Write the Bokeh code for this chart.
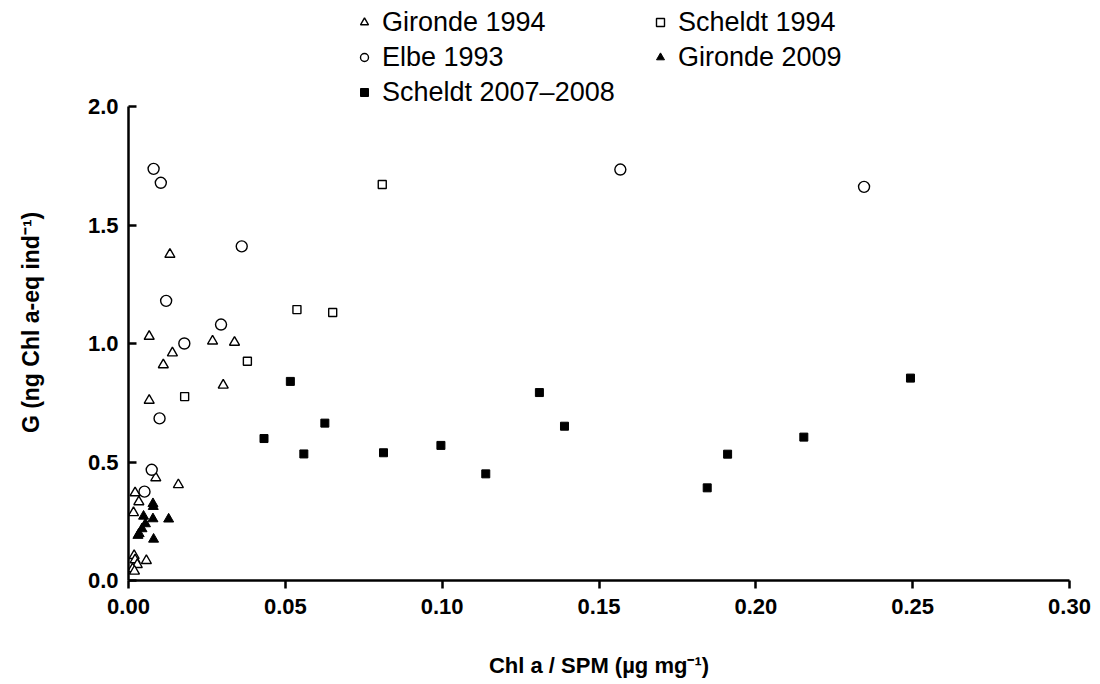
from bokeh.plotting import figure
from bokeh.models import Legend, LegendItem, Range1d, FixedTicker, NumeralTickFormatter
from bokeh.embed import file_html
from bokeh.resources import INLINE

# ---- data ----
gironde94_x = [0.0066, 0.0132, 0.0140, 0.0111, 0.0268, 0.0338, 0.0302, 0.0066, 0.0087, 0.0159,
               0.0021, 0.0033, 0.0016, 0.0018, 0.0021, 0.0057, 0.0028, 0.0013, 0.0019]
gironde94_y = [1.03, 1.376, 0.96, 0.91, 1.01, 1.005, 0.824, 0.76, 0.433, 0.404,
               0.37, 0.332, 0.286, 0.105, 0.087, 0.084, 0.067, 0.049, 0.039]

elbe93_x = [0.0080, 0.0103, 0.0361, 0.0120, 0.0295, 0.0178, 0.0099, 0.0074, 0.0051, 0.1568, 0.2345]
elbe93_y = [1.737, 1.678, 1.41, 1.18, 1.08, 1.00, 0.684, 0.467, 0.375, 1.734, 1.661]

scheldt94_x = [0.0809, 0.0537, 0.0651, 0.0379, 0.0179]
scheldt94_y = [1.671, 1.143, 1.131, 0.925, 0.776]

gironde09_x = [0.0078, 0.0079, 0.0048, 0.0078, 0.0128, 0.0054, 0.0043, 0.0034, 0.0030, 0.0080]
gironde09_y = [0.324, 0.312, 0.271, 0.260, 0.259, 0.239, 0.218, 0.197, 0.190, 0.174]

scheldt0708_x = [0.0516, 0.0432, 0.0626, 0.0559, 0.0813, 0.0996, 0.1139, 0.131, 0.139,
                 0.1845, 0.191, 0.2153, 0.2493]
scheldt0708_y = [0.84, 0.599, 0.664, 0.534, 0.539, 0.570, 0.450, 0.793, 0.651,
                 0.391, 0.533, 0.605, 0.854]

x_ticks = [0.00, 0.05, 0.10, 0.15, 0.20, 0.25, 0.30]
y_ticks = [0.0, 0.5, 1.0, 1.5, 2.0]

FONT = "Liberation Sans"
Y_MAX = 2.0
FRAME_H = 580          # frame reaches the top of the canvas; the room above 2.0 holds the legend
Y_TOP = Y_MAX * FRAME_H / 474.0

p = figure(width=1100, height=684, output_backend="svg", toolbar_location=None,
           x_range=Range1d(0, 0.30), y_range=Range1d(0, Y_TOP),
           min_border_left=128, min_border_right=31, min_border_top=0, min_border_bottom=104)
p.outline_line_color = None
p.xgrid.visible = False
p.ygrid.visible = False
p.background_fill_color = "white"

r_g94 = p.scatter(gironde94_x, gironde94_y, marker="triangle", size=10,
                  fill_color="white", line_color="black", line_width=1.4)
r_s94 = p.scatter(scheldt94_x, scheldt94_y, marker="square", size=8,
                  fill_color="white", line_color="black", line_width=1.4)
r_e93 = p.scatter(elbe93_x, elbe93_y, marker="circle", size=11,
                  fill_color="white", line_color="black", line_width=1.4)
r_g09 = p.scatter(gironde09_x, gironde09_y, marker="triangle", size=10,
                  fill_color="black", line_color="black", line_width=1)
r_s0708 = p.scatter(scheldt0708_x, scheldt0708_y, marker="square", size=8,
                    fill_color="black", line_color="black", line_width=1)

# axes
p.xaxis.ticker = FixedTicker(ticks=x_ticks)
p.yaxis.ticker = FixedTicker(ticks=y_ticks)
p.yaxis.bounds = (0, Y_MAX)
p.xaxis.formatter = NumeralTickFormatter(format="0.00")
p.yaxis.formatter = NumeralTickFormatter(format="0.0")
for ax in (p.xaxis, p.yaxis):
    ax.axis_line_width = 2.5
    ax.axis_line_color = "black"
    ax.major_tick_line_width = 2.5
    ax.major_tick_line_color = "black"
    ax.minor_tick_line_color = None
    ax.major_label_text_font = FONT
    ax.major_label_text_font_style = "bold"
    ax.major_label_text_font_size = "22px"
    ax.major_label_text_color = "black"
    ax.axis_label_text_font = FONT
    ax.axis_label_text_font_style = "bold"
    ax.axis_label_text_font_size = "22px"
    ax.axis_label_text_color = "black"
p.yaxis.axis_label_text_font_size = "23px"
p.xaxis.major_tick_in = 0
p.xaxis.major_tick_out = 8
p.yaxis.major_tick_in = 8
p.yaxis.major_tick_out = 0
p.xaxis.major_label_standoff = 10
p.yaxis.major_label_standoff = 10
p.xaxis.axis_label = "Chl a / SPM (\u00b5g mg\u207b\u00b9)"
# trailing no-break spaces centre the visible label on the 0-2 axis rather than the full frame
p.yaxis.axis_label = "G (ng Chl a-eq ind\u207b\u00b9)" + "\u00a0" * 10
p.xaxis.axis_label_standoff = 36
p.yaxis.axis_label_standoff = 41


def make_legend(items, loc):
    return Legend(items=items, location=loc, orientation="vertical",
                  glyph_width=20, glyph_height=20, label_height=35, spacing=0,
                  padding=0, margin=0, label_standoff=8,
                  border_line_color=None, background_fill_alpha=0,
                  label_text_font=FONT, label_text_font_size="27px",
                  label_text_color="black")


leg1 = make_legend([
    LegendItem(label="Gironde 1994", renderers=[r_g94]),
    LegendItem(label="Elbe 1993", renderers=[r_e93]),
    LegendItem(label="Scheldt 2007\u20132008", renderers=[r_s0708]),
], (226, FRAME_H - 109.5))
leg2 = make_legend([
    LegendItem(label="Scheldt 1994", renderers=[r_s94]),
    LegendItem(label="Gironde 2009", renderers=[r_g09]),
], (522, FRAME_H - 74.5))
p.add_layout(leg1)
p.add_layout(leg2)

open("out.html", "w").write(file_html(p, INLINE))
